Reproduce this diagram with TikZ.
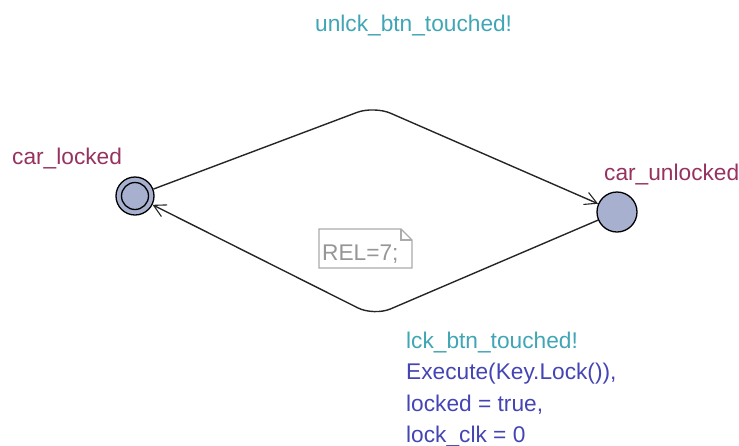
\documentclass[tikz,border=0pt]{standalone}
\usepackage{fontspec}
\setmainfont{Liberation Sans}
\usetikzlibrary{arrows.meta}
\definecolor{locfill}{RGB}{168,176,208}
\definecolor{locname}{RGB}{150,50,95}
\definecolor{synccol}{RGB}{64,165,180}
\definecolor{updcol}{RGB}{68,68,180}
\definecolor{notecol}{RGB}{150,150,150}
\tikzset{
  loc/.style={circle, draw=black, line width=1.3pt, fill=locfill, minimum size=40pt, inner sep=0pt},
  edge/.style={draw=black!85, line width=1.4pt, rounded corners=18pt, -{Straight Barb[length=12pt,width=13pt,line width=1.1pt]}},
  lbl/.style={font=\fontsize{22.7}{32}\selectfont, inner sep=0pt},
}
\begin{document}
\begin{tikzpicture}[x=1pt,y=-1pt]
\useasboundingbox (0,0) rectangle (739,445);
% locations
\node[loc, minimum size=38pt] (locked) at (135,196) {};
\node[circle, draw=black, line width=1.3pt, minimum size=27pt, inner sep=0pt] (lockedin) at (locked.center) {};
\node[loc] (unlocked) at (617,212) {};
% names
\node[lbl, text=locname, anchor=base west] (n1) at (12,164) {car\_locked};
\node[lbl, text=locname, anchor=base west] (n2) at (604,180) {car\_unlocked};
% bend points
\coordinate (top) at (374,106);
\coordinate (bot) at (374,316);
% edges
\path[edge] (locked) -- (top) -- (unlocked);
\path[edge] (unlocked) -- (bot) -- (locked);
% labels
\node[lbl, text=synccol, anchor=base west] (s1) at (315,31) {unlck\_btn\_touched!};
\node[lbl, text=synccol, anchor=base west] (s2) at (406,348) {lck\_btn\_touched!};
\node[lbl, text=updcol, anchor=base west] (u1) at (406,379.5) {Execute(Key.Lock()),};
\node[lbl, text=updcol, anchor=base west] (u2) at (406,411) {locked = true,};
\node[lbl, text=updcol, anchor=base west] (u3) at (406,442) {lock\_clk = 0};
% note
\draw[notecol!80, line width=1.2pt, fill=white]
  (319,229) -- (401,229) -- (412,240) -- (412,268) -- (319,268) -- cycle;
\draw[notecol!80, line width=1.1pt] (401,229) -- (401,240) -- (412,240);
\node[lbl, text=notecol, anchor=base west] (note) at (322,260) {REL=7;};
\end{tikzpicture}
\end{document}
